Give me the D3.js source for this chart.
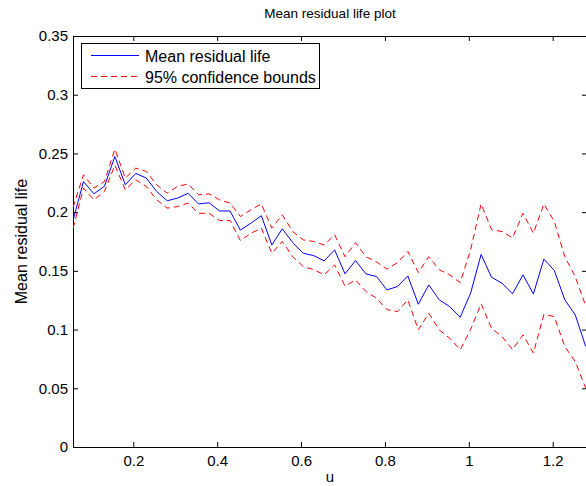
<!DOCTYPE html>
<html>
<head>
<meta charset="utf-8">
<script src="https://cdn.jsdelivr.net/npm/d3@7"></script>
<style>
  html, body { margin: 0; padding: 0; background: #fff; }
  svg { display: block; font-family: "Liberation Sans", Arial, Helvetica, sans-serif; }
</style>
</head>
<body>
<svg id="chart" width="586" height="486"></svg>
<script>
// ---- data ----
const u = [0.0562, 0.0812, 0.1061, 0.1311, 0.1560, 0.1810, 0.2059, 0.2309, 0.2558, 0.2808,
           0.3057, 0.3307, 0.3556, 0.3806, 0.4055, 0.4305, 0.4554, 0.4804, 0.5053, 0.5303,
           0.5552, 0.5802, 0.6051, 0.6301, 0.6550, 0.6800, 0.7049, 0.7299, 0.7548, 0.7798,
           0.8047, 0.8297, 0.8546, 0.8796, 0.9045, 0.9295, 0.9544, 0.9794, 1.0043, 1.0293,
           1.0542, 1.0792, 1.1041, 1.1291, 1.1540, 1.1790, 1.2039, 1.2289, 1.2538, 1.2788];
const meanResidualLife = [0.193, 0.226, 0.2156, 0.222, 0.2474, 0.2233, 0.233, 0.229, 0.2176, 0.2097,
           0.212, 0.216, 0.207, 0.208, 0.201, 0.201, 0.1847, 0.1906, 0.197, 0.172,
           0.1858, 0.1741, 0.165, 0.163, 0.1585, 0.1679, 0.1474, 0.1588, 0.1474, 0.1452,
           0.1338, 0.1366, 0.1457, 0.1216, 0.138, 0.1253, 0.1196, 0.1105, 0.131, 0.164,
           0.1445, 0.1395, 0.1304, 0.1466, 0.1304, 0.160, 0.1503, 0.1253, 0.1125, 0.0855];
const upperBound = [0.204, 0.2318, 0.2205, 0.226, 0.2537, 0.229, 0.2375, 0.2347, 0.2233, 0.2162,
           0.222, 0.224, 0.2148, 0.2156, 0.2105, 0.2077, 0.1963, 0.202, 0.207, 0.1864,
           0.1977, 0.1835, 0.1764, 0.175, 0.172, 0.1807, 0.162, 0.174, 0.162, 0.1577,
           0.1514, 0.157, 0.1665, 0.1486, 0.162, 0.151, 0.1466, 0.14, 0.168, 0.207,
           0.185, 0.1835, 0.178, 0.199, 0.182, 0.207, 0.192, 0.162, 0.145, 0.12];
const lowerBound = [0.186, 0.2205, 0.2105, 0.2176, 0.240, 0.219, 0.2276, 0.2219, 0.2105, 0.2034,
           0.2048, 0.2077, 0.199, 0.199, 0.1929, 0.1929, 0.1758, 0.182, 0.1864, 0.165,
           0.175, 0.162, 0.1537, 0.151, 0.1466, 0.155, 0.137, 0.1423, 0.1324, 0.1267,
           0.117, 0.1153, 0.1253, 0.0997, 0.114, 0.0997, 0.0926, 0.0827, 0.100, 0.122,
           0.101, 0.094, 0.083, 0.0955, 0.080, 0.113, 0.111, 0.0855, 0.0727, 0.050];
const xTicks = [0.2, 0.4, 0.6, 0.8, 1, 1.2];
const yTicks = [0, 0.05, 0.1, 0.15, 0.2, 0.25, 0.3, 0.35];
const legendLabels = ["Mean residual life", "95% confidence bounds"];

// ---- layout ----
const svg = d3.select("#chart");
const L = 73, R = 587, T = 36, B = 447;
const x = d3.scaleLinear().domain([0.0562, 1.2818]).range([L, R]);
const y = d3.scaleLinear().domain([0, 0.35]).range([B, T]);
const tickFs = 15, labelFs = 16, titleFs = 13.5;
const FF = "'Liberation Sans', Arial, sans-serif";

const g = svg.append("g");
const fmt = d => String(d);

g.append("g").attr("transform", `translate(0,${B})`)
  .call(d3.axisBottom(x).tickValues(xTicks).tickSizeInner(-5).tickSizeOuter(0).tickPadding(8).tickFormat(fmt));
g.append("g").attr("transform", `translate(0,${T})`)
  .call(d3.axisTop(x).tickValues(xTicks).tickSizeInner(-5).tickSizeOuter(0).tickFormat(""));
g.append("g").attr("transform", `translate(${L},0)`)
  .call(d3.axisLeft(y).tickValues(yTicks).tickSizeInner(-5).tickSizeOuter(0).tickPadding(5).tickFormat(fmt));
g.append("g").attr("transform", `translate(${R},0)`)
  .call(d3.axisRight(y).tickValues(yTicks).tickSizeInner(-5).tickSizeOuter(0).tickFormat(""));

g.selectAll(".domain").attr("stroke", "#000").attr("stroke-width", 1);
g.selectAll(".tick line").attr("stroke", "#000").attr("stroke-width", 1);
g.selectAll(".tick text").attr("font-size", tickFs).attr("fill", "#000").attr("font-family", FF);

// clip
svg.append("clipPath").attr("id", "clip").append("rect")
  .attr("x", L).attr("y", T).attr("width", R - L).attr("height", B - T);

const line = (vals) => d3.line().x((d, i) => x(u[i])).y(d => y(d))(vals);

const plot = svg.append("g").attr("clip-path", "url(#clip)");
plot.append("path").attr("d", line(upperBound)).attr("fill", "none")
  .attr("stroke", "#ff0000").attr("stroke-width", 1).attr("stroke-dasharray", "6,4");
plot.append("path").attr("d", line(lowerBound)).attr("fill", "none")
  .attr("stroke", "#ff0000").attr("stroke-width", 1).attr("stroke-dasharray", "6,4");
plot.append("path").attr("d", line(meanResidualLife)).attr("fill", "none")
  .attr("stroke", "#0000ff").attr("stroke-width", 1);

// title & labels
svg.append("text").attr("x", (L + R) / 2).attr("y", 18).attr("text-anchor", "middle")
  .attr("font-size", titleFs).text("Mean residual life plot");
svg.append("text").attr("x", (L + R) / 2).attr("y", 482).attr("text-anchor", "middle")
  .attr("font-size", tickFs).text("u");
svg.append("text").attr("transform", `translate(27,${(T + B) / 2}) rotate(-90)`)
  .attr("text-anchor", "middle").attr("font-size", labelFs).text("Mean residual life");

// legend
const lg = svg.append("g");
lg.append("rect").attr("x", 81.5).attr("y", 43.5).attr("width", 238).attr("height", 45)
  .attr("fill", "#fff").attr("stroke", "#000").attr("stroke-width", 1);
const rows = [{ c: "#0000ff", dash: null, yy: 55.5 }, { c: "#ff0000", dash: "6,4", yy: 76.5 }];
rows.forEach((r, i) => {
  lg.append("line").attr("x1", 91).attr("x2", 139).attr("y1", r.yy).attr("y2", r.yy)
    .attr("stroke", r.c).attr("stroke-width", 1).attr("stroke-dasharray", r.dash);
  lg.append("text").attr("x", 145).attr("y", r.yy + 6).attr("font-size", labelFs).text(legendLabels[i]);
});
</script>
</body>
</html>
